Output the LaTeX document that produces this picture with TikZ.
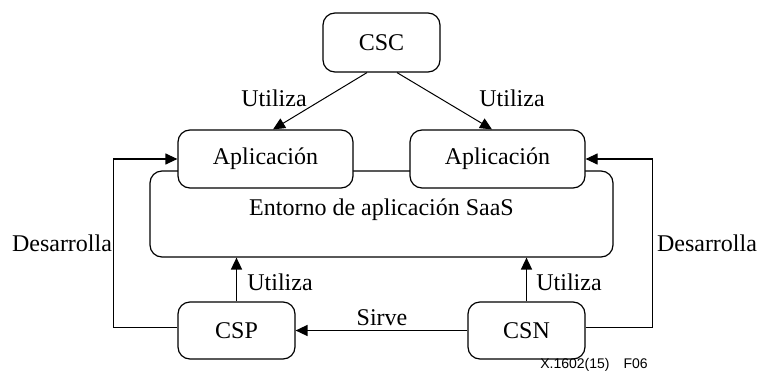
\documentclass[tikz,border=0pt]{standalone}
\usepackage{fontspec}
\setmainfont{Liberation Serif}
\setsansfont{Liberation Sans}
\usetikzlibrary{arrows.meta}

\tikzset{
  box/.style={draw,fill=white,rounded corners=12pt,align=center,inner sep=0pt},
  arr/.style={-{Triangle[length=12pt,width=11pt]}},
}

\begin{document}
\begin{tikzpicture}[x=1pt,y=-1pt,line width=1.2pt,font=\fontsize{24}{28}\selectfont]
      \useasboundingbox (0,0) rectangle (758,378);
      % boxes
      \node[box,minimum width=463pt,minimum height=86pt] (saas) at (381.5,214){};
      \node (saastxt) at (381.5,210){Entorno de aplicaci\'on SaaS};
      \node[box,minimum width=175pt,minimum height=58pt] (appL) at (265.5,159){Aplicaci\'on};
      \node[box,minimum width=175pt,minimum height=58pt] (appR) at (497.5,159){Aplicaci\'on};
      \node[box,minimum width=117pt,minimum height=59pt] (csc) at (381.5,42.5){CSC};
      \node[box,minimum width=117pt,minimum height=57pt] (csp) at (236.5,330.5){CSP};
      \node[box,minimum width=117pt,minimum height=57pt] (csn) at (526.5,330.5){CSN};

      % arrows
      \draw[arr,line width=1pt] ([xshift=-14.5pt]csc.south) -- ([xshift=7.5pt]appL.north);
      \draw[arr,line width=1pt] ([xshift=15.5pt]csc.south) -- ([xshift=-5.5pt]appR.north);
      \draw[arr,line width=1.6pt] (csp.north) -- (csp.north |- saas.south);
      \draw[arr,line width=1.6pt] (csn.north) -- (csn.north |- saas.south);
      \draw[arr,line width=1.6pt] (csn.west) -- (csp.east);
      \draw[arr] ([yshift=3pt]csp.west) -- ++(-64,0) |- (appL.west);
      \draw[arr] ([yshift=3pt]csn.east) -- ++(67,0) |- (appR.east);

      % labels
      \node (useL) at (274,98){Utiliza};
      \node (useR) at (512,98){Utiliza};
      \node (useP) at (280,282){Utiliza};
      \node (useN) at (569,282){Utiliza};
      \node (serve) at (382,318){Sirve};
      \node (devL) at (62,243){Desarrolla};
      \node (devR) at (707,243){Desarrolla};
      \node[font=\sffamily\fontsize{14}{16}\selectfont] (fig) at (594,365){X.1602(15)\hspace{14pt}F06};
    \end{tikzpicture}
\end{document}
